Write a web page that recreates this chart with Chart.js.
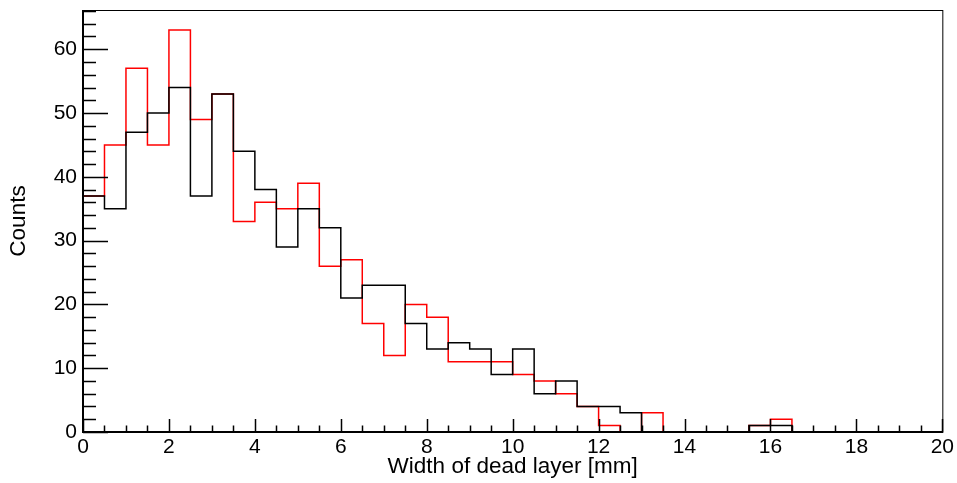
<!DOCTYPE html>
<html>
<head>
<meta charset="utf-8">
<script src="https://cdn.jsdelivr.net/npm/chart.js@4.4.1/dist/chart.umd.min.js"></script>
<style>
  html, body { margin: 0; padding: 0; background: #fff; }
  #wrap { width: 957px; height: 483px; }
</style>
</head>
<body>
<div id="wrap"><canvas id="hist" width="957" height="483"></canvas></div>
<script>
// lower edge of each 0.5 mm bin
const binLow = [0, 0.5, 1, 1.5, 2, 2.5, 3, 3.5, 4, 4.5, 5, 5.5, 6, 6.5, 7, 7.5, 8, 8.5, 9, 9.5,
  10, 10.5, 11, 11.5, 12, 12.5, 13, 13.5, 14, 14.5, 15, 15.5, 16, 16.5, 17, 17.5, 18, 18.5, 19, 19.5];
const xEnd = 20;

const redCounts = [37, 45, 57, 45, 63, 49, 53, 33, 36, 35, 39, 26, 27, 17, 12, 20, 18, 11, 11, 11,
  9, 8, 6, 4, 1, 0, 3, 0, 0, 0, 0, 1, 2, 0, 0, 0, 0, 0, 0, 0];
const blackCounts = [37, 35, 47, 50, 54, 37, 53, 44, 38, 29, 35, 32, 21, 23, 23, 17, 13, 14, 13, 9,
  13, 6, 8, 4, 4, 3, 0, 0, 0, 0, 0, 1, 1, 0, 0, 0, 0, 0, 0, 0];

const xTicks = [0, 2, 4, 6, 8, 10, 12, 14, 16, 18, 20];
const yTicks = [0, 10, 20, 30, 40, 50, 60];
const yMax = 66.15;

const FONT = '"Liberation Sans", Arial, Helvetica, sans-serif';

function histPoints(counts) {
  const pts = binLow.map((x, i) => ({ x: x, y: counts[i] }));
  pts.push({ x: xEnd, y: counts[counts.length - 1] });
  return pts;
}

// ROOT style frame with inward ticks
const frameTicks = {
  id: 'frameTicks',
  afterDraw(chart) {
    const { ctx, chartArea: a, scales } = chart;
    const xs = scales.x, ys = scales.y;
    ctx.save();
    ctx.strokeStyle = '#000';
    ctx.lineWidth = 1;
    ctx.strokeRect(a.left + 0.5, a.top + 0.5, a.right - a.left, a.bottom - a.top);
    ctx.lineWidth = 1.5;
    ctx.beginPath();
    for (let v = 0; v <= xEnd + 1e-9; v += 0.5) {
      const px = Math.round(xs.getPixelForValue(v)) + 0.5;
      const len = (Math.abs(v % 2) < 1e-9) ? 13 : 6.5;
      ctx.moveTo(px, a.bottom);
      ctx.lineTo(px, a.bottom - len);
    }
    for (let v = 0; v <= yMax; v += 2) {
      const py = Math.round(ys.getPixelForValue(v)) + 0.5;
      const len = (v % 10 === 0) ? 25 : 13;
      ctx.moveTo(a.left, py);
      ctx.lineTo(a.left + len, py);
    }
    ctx.stroke();
    ctx.lineWidth = 2;
    ctx.beginPath();
    ctx.moveTo(a.left, a.top);
    ctx.lineTo(a.left, a.bottom);
    ctx.lineTo(a.right, a.bottom);
    ctx.stroke();
    ctx.restore();
  }
};

new Chart(document.getElementById('hist').getContext('2d'), {
  type: 'line',
  data: {
    datasets: [
      {
        label: 'black',
        data: histPoints(blackCounts),
        borderColor: '#000000',
        borderWidth: 1.5,
        stepped: 'before',
        pointRadius: 0,
        fill: false
      },
      {
        label: 'red',
        data: histPoints(redCounts),
        borderColor: '#ff0000',
        borderWidth: 1.5,
        stepped: 'before',
        pointRadius: 0,
        fill: false
      }
    ]
  },
  options: {
    responsive: false,
    animation: false,
    layout: { padding: { top: 10, right: 14, left: 0, bottom: 0 } },
    plugins: { legend: { display: false }, tooltip: { enabled: false } },
    scales: {
      x: {
        type: 'linear',
        min: 0,
        max: xEnd,
        afterBuildTicks: s => { s.ticks = xTicks.map(v => ({ value: v })); },
        afterFit: s => { s.height = 51; },
        grid: { display: false, drawTicks: false },
        border: { display: false },
        ticks: {
          color: '#000',
          font: { family: FONT, size: 21 },
          padding: 3,
          maxRotation: 0,
          autoSkip: false
        },
        title: {
          display: true,
          text: 'Width of dead layer [mm]',
          color: '#000',
          font: { family: FONT, size: 22.5 },
          padding: { top: 0, bottom: 3 }
        }
      },
      y: {
        type: 'linear',
        min: 0,
        max: yMax,
        afterBuildTicks: s => { s.ticks = yTicks.map(v => ({ value: v })); },
        afterFit: s => { s.width = 83; s.paddingTop = 0; s.paddingBottom = 0; },
        grid: { display: false, drawTicks: false },
        border: { display: false },
        ticks: {
          color: '#000',
          font: { family: FONT, size: 21 },
          padding: 6
        },
        title: {
          display: true,
          text: 'Counts',
          color: '#000',
          font: { family: FONT, size: 22.5 },
          padding: { top: 5, bottom: 0 }
        }
      }
    }
  },
  plugins: [frameTicks]
});
</script>
</body>
</html>
